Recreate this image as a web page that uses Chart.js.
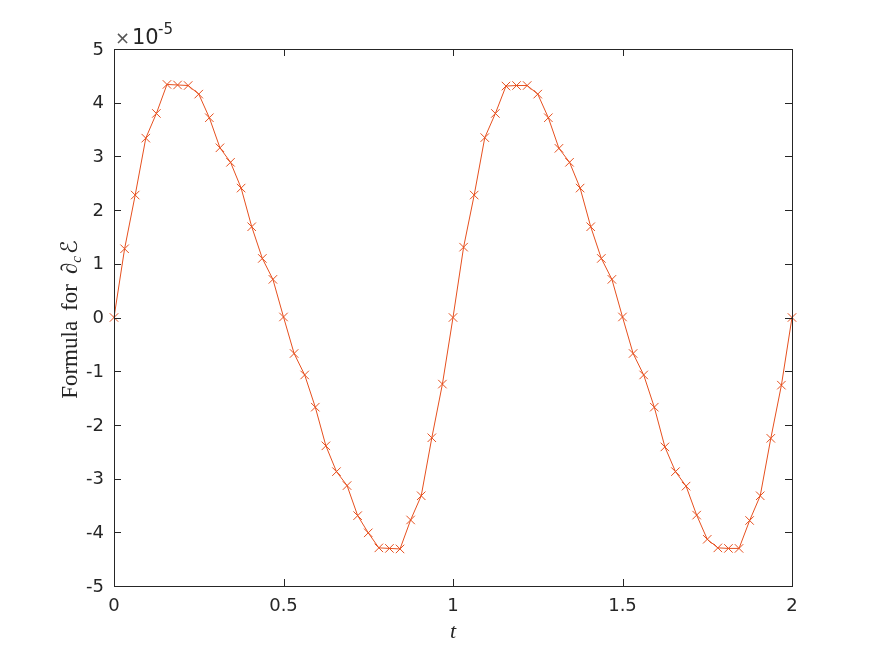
<!DOCTYPE html>
<html>
<head>
<meta charset="utf-8">
<script src="https://cdn.jsdelivr.net/npm/chart.js@4"></script>
<style>
    html, body { margin: 0; padding: 0; background: #ffffff; }
    #wrap { width: 875px; height: 656px; }
</style>
</head>
<body>
<div id="wrap"><canvas id="chart" width="875" height="656"></canvas></div>
<script>
// time samples (t)
const tValues = [
    0, 0.03125, 0.0625, 0.09375, 0.125, 0.15625, 0.1875, 0.21875,
    0.25, 0.28125, 0.3125, 0.34375, 0.375, 0.40625, 0.4375, 0.46875,
    0.5, 0.53125, 0.5625, 0.59375, 0.625, 0.65625, 0.6875, 0.71875,
    0.75, 0.78125, 0.8125, 0.84375, 0.875, 0.90625, 0.9375, 0.96875,
    1, 1.03125, 1.0625, 1.09375, 1.125, 1.15625, 1.1875, 1.21875,
    1.25, 1.28125, 1.3125, 1.34375, 1.375, 1.40625, 1.4375, 1.46875,
    1.5, 1.53125, 1.5625, 1.59375, 1.625, 1.65625, 1.6875, 1.71875,
    1.75, 1.78125, 1.8125, 1.84375, 1.875, 1.90625, 1.9375, 1.96875,
    2
];

// formula values, in units of 1e-5
const formulaValues = [
    0, 1.28, 2.28, 3.34, 3.80, 4.34, 4.33, 4.32,
    4.16, 3.72, 3.16, 2.89, 2.41, 1.69, 1.10, 0.71,
    0.01, -0.67, -1.07, -1.67, -2.39, -2.87, -3.13, -3.69,
    -4.01, -4.29, -4.30, -4.31, -3.77, -3.32, -2.24, -1.24,
    0, 1.31, 2.28, 3.35, 3.80, 4.31, 4.32, 4.32,
    4.16, 3.72, 3.15, 2.89, 2.41, 1.69, 1.10, 0.71,
    0.01, -0.67, -1.07, -1.67, -2.41, -2.87, -3.14, -3.68,
    -4.13, -4.29, -4.30, -4.30, -3.78, -3.32, -2.25, -1.26,
    0
];

const xTicks = [0, 0.5, 1, 1.5, 2];
const xTickLabels = ['0', '0.5', '1', '1.5', '2'];
const yTicks = [-5, -4, -3, -2, -1, 0, 1, 2, 3, 4, 5];
const yTickLabels = ['-5', '-4', '-3', '-2', '-1', '0', '1', '2', '3', '4', '5'];

const axisColor = '#262626';
const lineColor = '#E6501F';
const tickFont = '18px "DejaVu Sans", sans-serif';
const tickLen = 7;

// MATLAB-like box, inward ticks, labels and titles
const axesPlugin = {
    id: 'matlabAxes',
    afterDraw(chart) {
        const ctx = chart.ctx;
        const area = chart.chartArea;
        const xs = chart.scales.x;
        const ys = chart.scales.y;
        ctx.save();
        ctx.strokeStyle = axisColor;
        ctx.lineWidth = 1;
        ctx.strokeRect(Math.round(area.left) + 0.5, Math.round(area.top) + 0.5,
            Math.round(area.right - area.left), Math.round(area.bottom - area.top));

        ctx.beginPath();
        xTicks.forEach(v => {
            const px = Math.round(xs.getPixelForValue(v)) + 0.5;
            ctx.moveTo(px, area.bottom);
            ctx.lineTo(px, area.bottom - tickLen);
            ctx.moveTo(px, area.top);
            ctx.lineTo(px, area.top + tickLen);
        });
        yTicks.forEach(v => {
            const py = Math.round(ys.getPixelForValue(v)) + 0.5;
            ctx.moveTo(area.left, py);
            ctx.lineTo(area.left + tickLen, py);
            ctx.moveTo(area.right, py);
            ctx.lineTo(area.right - tickLen, py);
        });
        ctx.stroke();

        ctx.fillStyle = axisColor;
        ctx.font = tickFont;
        ctx.textAlign = 'center';
        ctx.textBaseline = 'middle';
        xTicks.forEach((v, i) => {
            ctx.fillText(xTickLabels[i], xs.getPixelForValue(v), area.bottom + 20);
        });
        ctx.textAlign = 'right';
        yTicks.forEach((v, i) => {
            ctx.fillText(yTickLabels[i], area.left - 10, ys.getPixelForValue(v) + 1);
        });

        // exponent label
        ctx.textAlign = 'left';
        ctx.textBaseline = 'alphabetic';
        ctx.fillStyle = '#555555';
        ctx.font = '18px "DejaVu Sans", sans-serif';
        ctx.fillText('\u00d7', area.left + 1, area.top - 5);
        ctx.fillStyle = axisColor;
        ctx.font = '21px "DejaVu Sans", sans-serif';
        ctx.fillText('10', area.left + 18, area.top - 5);
        ctx.font = '15px "DejaVu Sans", sans-serif';
        ctx.fillText('-5', area.left + 44, area.top - 15);

        // x title
        ctx.font = 'italic 22px "Liberation Serif", serif';
        ctx.textAlign = 'center';
        ctx.fillText('t', (area.left + area.right) / 2, area.bottom + 52);

        // y title, rotated
        ctx.translate(77, (area.top + area.bottom) / 2);
        ctx.rotate(-Math.PI / 2);
        ctx.textAlign = 'left';
        const main = '23px "Liberation Serif", serif';
        const parts = [
            { s: 'Formula', f: main, dy: 0, gap: 10 },
            { s: 'for', f: main, dy: 0, gap: 10 },
            { s: '\u2202', f: 'italic 23px "Liberation Serif", serif', dy: 0, gap: 0 },
            { s: 'c', f: 'italic 15px "Liberation Serif", serif', dy: 4, gap: 2 },
            { s: '\u2130', f: '23px "DejaVu Sans", serif', dy: 0, gap: 0 }
        ];
        let total = 0;
        parts.forEach(p => { ctx.font = p.f; total += ctx.measureText(p.s).width + p.gap; });
        let x = -total / 2 - 2;
        parts.forEach(p => {
            ctx.font = p.f;
            ctx.fillText(p.s, x, p.dy);
            x += ctx.measureText(p.s).width + p.gap;
        });
        ctx.restore();
    }
};

const points = tValues.map((t, i) => ({ x: t, y: formulaValues[i] }));

new Chart(document.getElementById('chart').getContext('2d'), {
    type: 'scatter',
    data: {
        datasets: [{
            data: points,
            showLine: true,
            clip: false,
            borderColor: lineColor,
            borderWidth: 1,
            pointStyle: 'crossRot',
            pointRadius: 6,
            pointBorderWidth: 1,
            pointBorderColor: lineColor,
            pointBackgroundColor: lineColor,
            tension: 0
        }]
    },
    options: {
        responsive: false,
        animation: false,
        layout: { padding: { left: 114, right: 83, top: 49, bottom: 70 } },
        plugins: {
            legend: { display: false },
            tooltip: { enabled: false }
        },
        scales: {
            x: { type: 'linear', min: 0, max: 2, display: false },
            y: { type: 'linear', min: -5, max: 5, display: false }
        }
    },
    plugins: [axesPlugin]
});
</script>
</body>
</html>
